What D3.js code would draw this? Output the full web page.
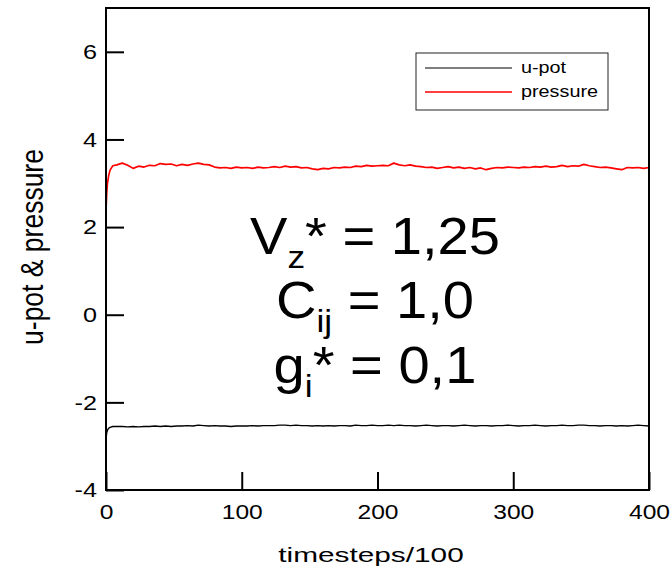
<!DOCTYPE html>
<html>
<head>
<meta charset="utf-8">
<script src="https://cdn.jsdelivr.net/npm/d3@7"></script>
<style>
  body { margin: 0; background: #fff; }
  svg { display: block; font-family: "Liberation Sans", Arial, sans-serif; }
</style>
</head>
<body>
<svg id="chart" width="672" height="569"></svg>
<script>
// x grid: a few early samples, then every 4 timesteps/100
const steps = [0, 0.5, 1, 2, 3, 5].concat(d3.range(8, 401, 4));

const pressure = [
  2.38, 2.75, 2.98, 3.18, 3.30, 3.40,
  3.42, 3.46, 3.41, 3.34, 3.39, 3.37, 3.41, 3.40, 3.45, 3.43,
  3.44, 3.40, 3.43, 3.41, 3.44, 3.46, 3.43, 3.42, 3.37, 3.35,
  3.36, 3.34, 3.37, 3.35, 3.36, 3.34, 3.37, 3.35, 3.36, 3.38,
  3.36, 3.39, 3.37, 3.38, 3.35, 3.36, 3.33, 3.31, 3.34, 3.33,
  3.36, 3.35, 3.37, 3.36, 3.39, 3.38, 3.41, 3.39, 3.40, 3.41,
  3.40, 3.46, 3.42, 3.40, 3.42, 3.39, 3.38, 3.36, 3.37, 3.34,
  3.36, 3.38, 3.35, 3.37, 3.34, 3.36, 3.33, 3.35, 3.31, 3.34,
  3.36, 3.35, 3.37, 3.36, 3.35, 3.37, 3.36, 3.38, 3.37, 3.39,
  3.37, 3.38, 3.41, 3.38, 3.40, 3.39, 3.43, 3.40, 3.38, 3.36,
  3.37, 3.35, 3.33, 3.31, 3.36, 3.35, 3.36, 3.34, 3.36
];

const upot = [
  -2.84, -2.70, -2.64, -2.59, -2.57, -2.55,
  -2.55, -2.55, -2.56, -2.55, -2.56, -2.55, -2.55, -2.54, -2.55, -2.54,
  -2.55, -2.54, -2.54, -2.53, -2.54, -2.52, -2.53, -2.54, -2.53, -2.54,
  -2.54, -2.55, -2.54, -2.54, -2.54, -2.53, -2.54, -2.53, -2.53, -2.53,
  -2.52, -2.52, -2.53, -2.52, -2.53, -2.53, -2.54, -2.53, -2.54, -2.53,
  -2.54, -2.53, -2.53, -2.54, -2.52, -2.53, -2.53, -2.52, -2.53, -2.53,
  -2.52, -2.53, -2.52, -2.53, -2.53, -2.54, -2.53, -2.52, -2.53, -2.54,
  -2.53, -2.53, -2.54, -2.53, -2.52, -2.53, -2.54, -2.53, -2.53, -2.54,
  -2.53, -2.53, -2.52, -2.53, -2.54, -2.53, -2.53, -2.52, -2.53, -2.54,
  -2.53, -2.53, -2.52, -2.53, -2.53, -2.52, -2.52, -2.53, -2.53, -2.54,
  -2.53, -2.53, -2.54, -2.53, -2.54, -2.53, -2.52, -2.53, -2.54
];

const xTicks = [0, 100, 200, 300, 400];
const yTicks = [-4, -2, 0, 2, 4, 6];
const seriesNames = ["u-pot", "pressure"];
const seriesColors = ["#000000", "#ff0000"];

const svg = d3.select("#chart");
const frame = { left: 106, right: 649, top: 8, bottom: 490 };

const x = d3.scaleLinear().domain([0, 400]).range([frame.left, frame.right]);
const y = d3.scaleLinear().domain([-4, 7]).range([frame.bottom, frame.top]);

const line = d3.line()
  .x(d => x(d[0]))
  .y(d => y(d[1]));

// curves
const plotData = [d3.zip(steps, upot), d3.zip(steps, pressure)];
svg.append("g")
  .selectAll("path")
  .data(plotData)
  .join("path")
  .attr("fill", "none")
  .attr("stroke", (d, i) => seriesColors[i])
  .attr("stroke-width", (d, i) => i === 1 ? 1.7 : 1.4)
  .attr("stroke-linejoin", "round")
  .attr("d", line);

// axes with inward ticks, plain hyphen for negatives
const yAxis = svg.append("g")
  .attr("transform", `translate(${frame.left},0)`)
  .call(d3.axisLeft(y).tickValues(yTicks).tickSize(-18).tickPadding(7.5)
    .tickFormat(d => String(d)));
yAxis.select(".domain").remove();
yAxis.selectAll(".tick line").attr("stroke", "#000").attr("stroke-width", 2);
yAxis.selectAll(".tick text")
  .attr("font-size", 21)
  .attr("fill", "#000")
  .attr("transform", "scale(1.2,1)");

const xAxis = svg.append("g")
  .attr("transform", `translate(0,${frame.bottom})`)
  .call(d3.axisBottom(x).tickValues(xTicks).tickSize(-18).tickPadding(14)
    .tickFormat(d => String(d)));
xAxis.select(".domain").remove();
xAxis.selectAll(".tick line").attr("stroke", "#000").attr("stroke-width", 2);
xAxis.selectAll(".tick text")
  .attr("font-size", 20.5)
  .attr("fill", "#000")
  .attr("transform", "scale(1.2,1)");

// frame
svg.append("rect")
  .attr("x", frame.left)
  .attr("y", frame.top)
  .attr("width", frame.right - frame.left)
  .attr("height", frame.bottom - frame.top)
  .attr("fill", "none")
  .attr("stroke", "#000")
  .attr("stroke-width", 2);

// axis titles
svg.append("text")
  .attr("transform", "translate(371,562) scale(1.42,1)")
  .attr("text-anchor", "middle")
  .attr("font-size", 21)
  .text("timesteps/100");

svg.append("text")
  .attr("transform", "translate(43,247) scale(1.15,1) rotate(-90)")
  .attr("text-anchor", "middle")
  .attr("font-size", 26.5)
  .text("u-pot & pressure");

// legend
const legend = svg.append("g");
legend.append("rect")
  .attr("x", 416).attr("y", 53)
  .attr("width", 192).attr("height", 57)
  .attr("fill", "#fff")
  .attr("stroke", "#222")
  .attr("stroke-width", 1);
const items = legend.selectAll("g.item")
  .data(seriesNames)
  .join("g")
  .attr("class", "item")
  .attr("transform", (d, i) => `translate(0,${68 + i * 24})`);
items.append("line")
  .attr("x1", 425).attr("x2", 512)
  .attr("stroke", (d, i) => seriesColors[i])
  .attr("stroke-width", (d, i) => i === 1 ? 1.6 : 1.2);
items.append("text")
  .attr("transform", "translate(521,5) scale(1.2,1)")
  .attr("font-size", 16.5)
  .text(d => d);

// parameter annotation
const notes = [
  { base: "V", sub: "z", star: "*", rest: " = 1,25" },
  { base: "C", sub: "ij", star: "", rest: " = 1,0" },
  { base: "g", sub: "i", star: "*", rest: " = 0,1" }
];
const note = svg.append("g").attr("transform", "translate(375,0) scale(1.1,1)");
notes.forEach((n, i) => {
  const t = note.append("text")
    .attr("y", 254 + i * 64.5)
    .attr("text-anchor", "middle")
    .attr("font-size", 51);
  t.append("tspan").text(n.base);
  t.append("tspan").attr("font-size", 32).attr("dy", 14).text(n.sub);
  t.append("tspan").attr("dy", -14).text(n.star + n.rest);
});
</script>
</body>
</html>
